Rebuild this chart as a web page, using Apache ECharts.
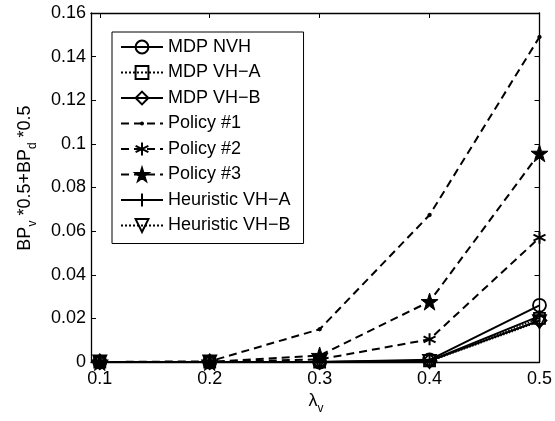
<!DOCTYPE html>
<html>
<head>
<meta charset="utf-8">
<script src="https://cdn.jsdelivr.net/npm/echarts@6/dist/echarts.min.js"></script>
<style>html,body{margin:0;padding:0;background:#fff;}#c{width:555px;height:421px;}</style>
</head>
<body>
<div id="c"></div>
<script>
const lambdas = [0.1, 0.2, 0.3, 0.4, 0.5];
const xTicks = [0.1, 0.2, 0.3, 0.4, 0.5];
const yTicks = [0, 0.02, 0.04, 0.06, 0.08, 0.1, 0.12, 0.14, 0.16];
const mdpNVH = [0, 0, 0, 0.001, 0.026];
const mdpVHA = [0, 0, 0, 0.0005, 0.020];
const mdpVHB = [0, 0, 0, 0.0005, 0.019];
const policy1 = [0, 0.0003, 0.015, 0.0674, 0.149];
const policy2 = [0, 0, 0.0012, 0.0104, 0.057];
const policy3 = [0, 0, 0.003, 0.0277, 0.0957];
const heurVHA = [0, 0, 0, 0.0005, 0.021];
const heurVHB = [0, 0, 0, 0.0003, 0.0185];

const FONT = 'Liberation Sans';
const FS = 18;
const pts = arr => lambdas.map((x, i) => [x, arr[i]]);

const asterisk = 'path://M5,0L5,10M0.7,2.5L9.3,7.5M0.7,7.5L9.3,2.5';
const plus = 'path://M5,0L5,10M0,5L10,5';
const star = 'path://M5,0L6.18,3.62L10,3.62L6.91,5.86L8.09,9.51L5,7.27L1.91,9.51L3.09,5.86L0,3.62L3.82,3.62Z';
const triDown = 'path://M0,0L10,0L5,8.66Z';
const dot = 'path://M0,0L0.01,0L0,0.01ZM10,10L9.99,10L10,9.99ZM6.6,5L6.13,6.13L5,6.6L3.87,6.13L3.4,5L3.87,3.87L5,3.4L6.13,3.87Z';

function mk(name, data, lineType, lineWidth, symbol, size, fill, bw, z) {
  return {
    name, type: 'line', data: pts(data),
    symbol, symbolSize: size, showSymbol: true, showAllSymbol: true,
    lineStyle: { color: '#000', width: lineWidth, type: lineType },
    itemStyle: { color: fill, borderColor: '#000', borderWidth: bw },
    emphasis: { disabled: true },
    animation: false, z: z || 3, clip: false
  };
}

const T = 'rgba(0,0,0,0)';
const series = [
  mk('MDP NVH', mdpNVH, 'solid', 2, 'circle', 13, T, 1.8),
  mk('MDP VH\u2212A', mdpVHA, 'dotted', 1.5, 'rect', 11, T, 1.8),
  mk('MDP VH\u2212B', mdpVHB, 'solid', 2, 'diamond', 14, T, 1.8),
  mk('Policy #1', policy1, [8, 5], 2, dot, 14, '#000', 0),
  mk('Policy #2', policy2, [8, 5], 2, asterisk, 12, T, 2),
  mk('Policy #3', policy3, [8, 5], 2, star, 17, '#000', 1, 4),
  mk('Heuristic VH\u2212A', heurVHA, 'solid', 2, plus, 12, T, 2),
  mk('Heuristic VH\u2212B', heurVHB, 'dotted', 1.5, triDown, 13, T, 1.8)
];

const axisCommon = {
  axisLine: { show: true, onZero: false, lineStyle: { color: '#000', width: 1.3 } },
  axisTick: { show: true, inside: true, length: 5, lineStyle: { color: '#000', width: 1 } },
  splitLine: { show: false }
};

const fmtY = v => parseFloat(v.toFixed(3)).toString();

const chart = echarts.init(document.getElementById('c'));
chart.setOption({
  backgroundColor: '#fff',
  animation: false,
  textStyle: { fontFamily: FONT },
  grid: { left: 91, right: 14, top: 13, bottom: 59, containLabel: false },
  xAxis: [
    Object.assign({}, axisCommon, {
      type: 'value', min: 0.092, max: 0.5, position: 'bottom',
      axisTick: Object.assign({}, axisCommon.axisTick, { customValues: xTicks }),
      axisLabel: { customValues: xTicks, color: '#000', fontSize: FS, fontFamily: FONT, margin: 8,
        formatter: v => fmtY(v) }
    }),
    Object.assign({}, axisCommon, {
      type: 'value', min: 0.092, max: 0.5, position: 'top',
      axisTick: Object.assign({}, axisCommon.axisTick, { customValues: xTicks }),
      axisLabel: { show: false }
    })
  ],
  yAxis: [
    Object.assign({}, axisCommon, {
      type: 'value', min: 0, max: 0.16, position: 'left',
      axisTick: Object.assign({}, axisCommon.axisTick, { customValues: yTicks }),
      axisLabel: { customValues: yTicks, color: '#000', fontSize: FS, fontFamily: FONT, margin: 5, formatter: fmtY }
    }),
    Object.assign({}, axisCommon, {
      type: 'value', min: 0, max: 0.16, position: 'right',
      axisTick: Object.assign({}, axisCommon.axisTick, { customValues: yTicks }),
      axisLabel: { show: false }
    })
  ],
  legend: {
    orient: 'vertical', left: 112, top: 32, z: 10,
    backgroundColor: '#fff', borderColor: '#000', borderWidth: 1,
    padding: [6, 13, 9, 8],
    itemWidth: 42, itemHeight: 16, itemGap: 7.5,
    textStyle: { color: '#000', fontSize: FS, fontFamily: FONT },
    selectedMode: false,
    data: series.map(s => s.name)
  },
  graphic: [
    {
      type: 'text', x: 25, y: 178, rotation: Math.PI / 2,
      style: {
        text: 'BP{s|v} *0.5+BP{s|d} *0.5',
        align: 'center', verticalAlign: 'middle',
        fontFamily: FONT, fontSize: FS, fill: '#000',
        rich: {
          s: { fontSize: 12, fontFamily: FONT, fill: '#000', verticalAlign: 'bottom', lineHeight: 28 }
        }
      }
    },
    {
      type: 'text', x: 316, y: 401,
      style: {
        text: '\u03bb{s|v}',
        align: 'center', verticalAlign: 'middle',
        fontFamily: FONT, fontSize: FS, fill: '#000',
        rich: { s: { fontSize: 12, fontFamily: FONT, fill: '#000', verticalAlign: 'bottom', lineHeight: 28 } }
      }
    }
  ],
  series
});
</script>
</body>
</html>
